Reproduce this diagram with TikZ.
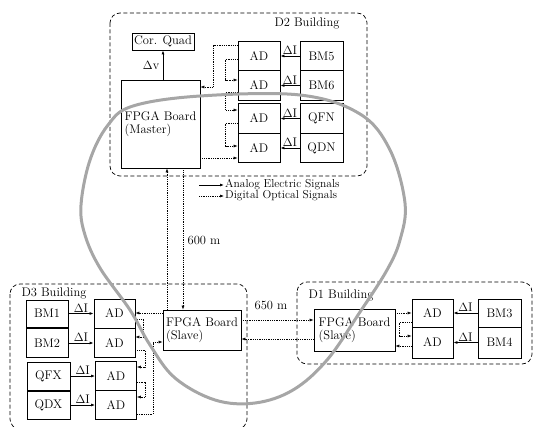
\documentclass[tikz,border=0pt]{standalone}
\usepackage{amsmath}
\usepackage{amssymb}
\usetikzlibrary{arrows.meta}

\begin{document}
\begin{tikzpicture}[x=1pt,y=-1pt,
  font=\fontsize{12.5}{13.5}\selectfont,
  blk/.style={draw,line width=0.8pt,inner sep=1pt},
  adbox/.style={blk,minimum width=42,minimum height=29.5},
  building/.style={draw,line width=0.7pt,dash pattern=on 4pt off 2.5pt,rounded corners=10pt},
  sig/.style={line width=0.9pt,-{Latex[length=4pt,width=3pt]}},
  opt/.style={line width=0.6pt,dash pattern=on 1pt off 0.8pt,-{Latex[length=4pt,width=3pt]}},
  orbit/.style={line width=3pt,draw=black!35},
  legend/.style={font=\fontsize{11.5}{12}\selectfont,inner sep=1pt}]
\useasboundingbox (0,0) rectangle (534,427);

% buildings
\draw[building] (110,13) rectangle (367,176);
\draw[building] (10,284) rectangle (247,429);
\draw[building] (297,282) rectangle (532,364);
\node (d2lbl) at (307,23) {D2 Building};
\node (d3lbl) at (54,293) {D3 Building};
\node (d1lbl) at (341,295) {D1 Building};

% D2
\node[blk,minimum width=62,minimum height=17] (cq) at (163,41.5) {Cor. Quad};
\node[blk,minimum width=79,minimum height=88,align=left] (master) at (160.5,124)
{FPGA Board\\(Master)};
\node[adbox] (ad5) at (259,56) {AD};
\node[adbox] (ad6) at (259,85.5) {AD};
\node[adbox] (ad7) at (259,118.5) {AD};
\node[adbox] (ad8) at (259,148) {AD};
\node[adbox,minimum width=43] (bm5) at (321.5,56) {BM5};
\node[adbox,minimum width=43] (bm6) at (321.5,85.5) {BM6};
\node[adbox,minimum width=43] (qfn) at (321.5,118.5) {QFN};
\node[adbox,minimum width=43] (qdn) at (321.5,148) {QDN};

\draw[sig] (master.north -| cq.south) to node[left]{$\Delta$v} (cq.south);
\draw[sig] (bm5) to node[above,inner sep=1pt]{$\Delta$I} (ad5);
\draw[sig] (bm6) to node[above,inner sep=1pt]{$\Delta$I} (ad6);
\draw[sig] (qfn) to node[above,inner sep=1pt]{$\Delta$I} (ad7);
\draw[sig] (qdn) to node[above,inner sep=1pt]{$\Delta$I} (ad8);

\draw[opt] ([yshift=11]ad5.west) -- ++(-24,0) |- ([yshift=37]master.east);
\draw[opt] ([yshift=-3]ad5.west) -- ++(-12,0) |- ([yshift=5.5]ad6.west);
\draw[opt] ([yshift=-6.5]ad6.west) -- ++(-12,0) |- ([yshift=8.5]ad7.west);
\draw[opt] ([yshift=-4.5]ad7.west) -- ++(-12,0) |- ([yshift=2]ad8.west);
\draw[opt] ([yshift=-34]master.east) -- ([yshift=-10]ad8.west);

% legend
\coordinate (lgas) at (199,185);
\coordinate (lgds) at (199,196);
\node[legend,anchor=west] (lga) at (224,185) {Analog Electric Signals};
\node[legend,anchor=west] (lgd) at (224,196) {Digital Optical Signals};
\draw[sig] (lgas) -- (lga);
\draw[opt] (lgds) -- (lgd);

% D3
\node[blk,minimum width=78,minimum height=40,align=left] (slave3) at (202,330)
{FPGA Board\\(Slave)};
\node[adbox,minimum width=41,minimum height=29] (ad1) at (114.5,313.5) {AD};
\node[adbox,minimum width=41,minimum height=29] (ad2) at (114.5,343) {AD};
\node[adbox,minimum width=41,minimum height=28.5] (ad3) at (116,376) {AD};
\node[adbox,minimum width=41,minimum height=29.5] (ad4) at (116,405) {AD};
\node[adbox,minimum height=27] (bm1) at (47,313.5) {BM1};
\node[adbox,minimum height=28.5] (bm2) at (47,343) {BM2};
\node[adbox,minimum width=43,minimum height=28] (qfx) at (48.5,376) {QFX};
\node[adbox,minimum width=43,minimum height=28] (qdx) at (48.5,405) {QDX};

\draw[sig] (bm1) to node[above,inner sep=1pt]{$\Delta$I} (ad1);
\draw[sig] (bm2) to node[above,inner sep=1pt]{$\Delta$I} (ad2);
\draw[sig] (qfx) to node[above,inner sep=1pt]{$\Delta$I} (ad3);
\draw[sig] (qdx) to node[above,inner sep=1pt]{$\Delta$I} (ad4);

\draw[opt] ([yshift=17]slave3.west) -- ([yshift=0.5]ad1.east);
\draw[opt] ([yshift=-5.5]ad1.east) -- ++(8,0) |- ([yshift=6]ad2.east);
\draw[opt] ([yshift=-7]ad2.east) -- ++(10,0) |- ([yshift=9]ad3.east);
\draw[opt] ([yshift=-6]ad3.east) -- ++(8,0) |- ([yshift=8]ad4.east);
\draw[opt] ([yshift=-9]ad4.east) -- ++(16,0) |- ([yshift=-12]slave3.west);

% master <-> D3 slave
\draw[opt] ([xshift=-35]slave3.north) -- ([xshift=6.5]master.south);
\draw[opt] ([xshift=22.5]master.south) -- ([xshift=-19]slave3.north);
\node (dist600) at (204,240) {600 m};

% D1
\node[blk,minimum width=81,minimum height=42,align=left] (slave1) at (354.5,330)
{FPGA Board\\(Slave)};
\node[adbox,minimum width=41,minimum height=28] (ad9) at (432.5,313) {AD};
\node[adbox,minimum width=41,minimum height=31] (ad10) at (432.5,342.5) {AD};
\node[adbox,minimum width=43,minimum height=28] (bm3) at (499.5,313) {BM3};
\node[adbox,minimum width=43,minimum height=31] (bm4) at (499.5,342.5) {BM4};

\draw[sig] (bm3) to node[above,inner sep=1pt]{$\Delta$I} (ad9);
\draw[sig] (bm4) to node[above,inner sep=1pt]{$\Delta$I} (ad10);

\draw[opt] ([yshift=17]slave1.east) -- (ad9.west);
\draw[opt] ([yshift=-9]ad9.west) -- ++(-12,0) |- ([yshift=6.5]ad10.west);
\draw[opt] ([yshift=-3.5]ad10.west) -- ([yshift=-16]slave1.east);

% D3 slave <-> D1 slave
\draw[opt] ([yshift=10]slave3.east) -- ([yshift=10]slave1.west);
\draw[opt] ([yshift=-9]slave1.west) -- ([yshift=-9]slave3.east);
\node (dist650) at (271,305) {650 m};

% ring
\draw[orbit] plot[smooth cycle,tension=0.6] coordinates {
(133,106) (200,96) (300,95) (360,114) (390,150) (405,203) (400,240)
(387,270) (360,312) (327,360) (293,390) (255,403) (215,400) (175,378)
(150,345) (130,310) (100,268) (85,235) (81,205) (90,160) (108,125)};
\end{tikzpicture}
\end{document}
